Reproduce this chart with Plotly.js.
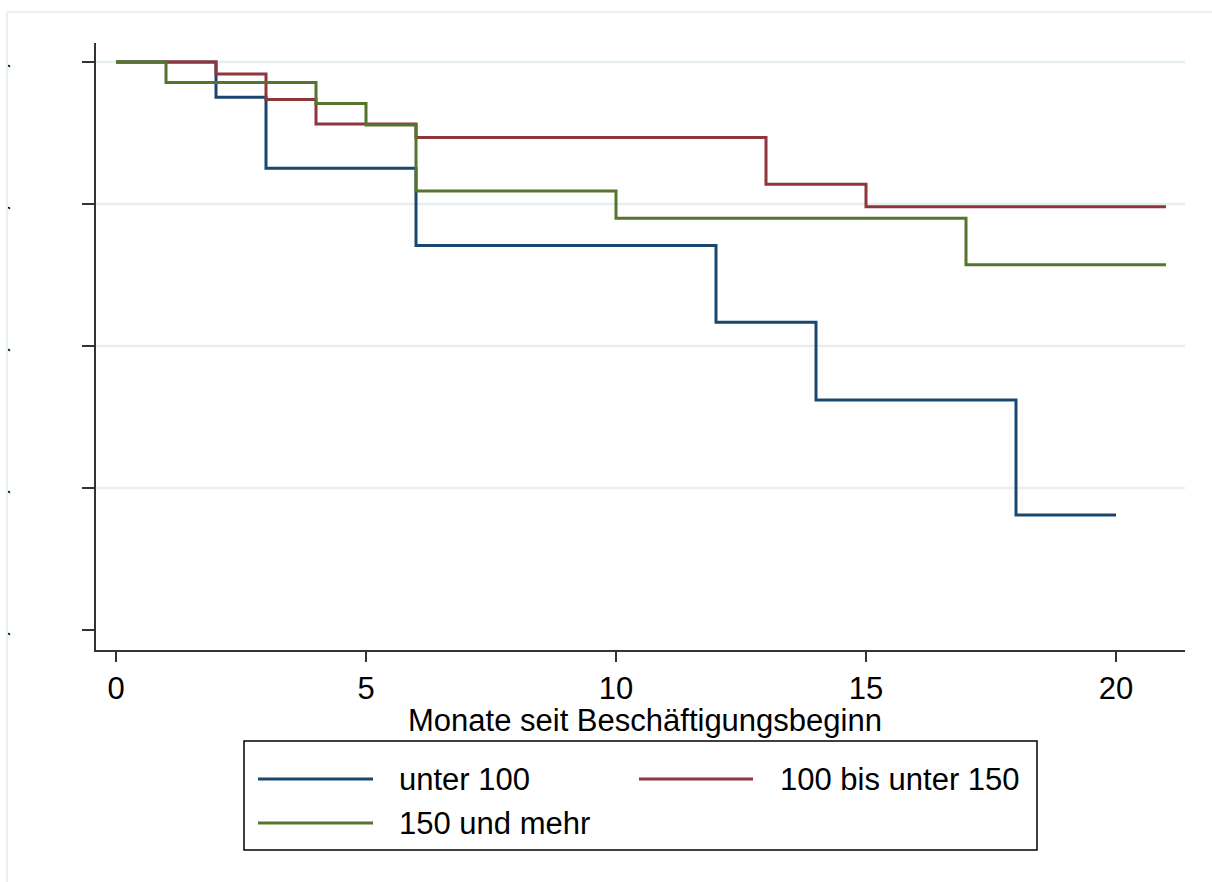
<!DOCTYPE html>
<html>
<head>
<meta charset="utf-8">
<script src="https://cdn.plot.ly/plotly-3.0.1.min.js"></script>
<style>
  html, body { margin: 0; padding: 0; background: #ffffff; overflow: hidden; }
  #chart { width: 1212px; height: 882px; }
</style>
</head>
<body>
<div id="chart"></div>
<script>
// ---- Data ----
const seriesNames = ["unter 100", "100 bis unter 150", "150 und mehr"];
const seriesColors = ["#1a476f", "#90353b", "#55752f"];

const monthsUnter100 = [0, 2, 3, 6, 12, 14, 18, 20];
const survUnter100   = [1.000, 0.938, 0.813, 0.677, 0.542, 0.405, 0.2025, 0.2025];

const months100bis150 = [0, 2, 3, 4, 6, 13, 15, 21];
const surv100bis150   = [1.000, 0.979, 0.934, 0.891, 0.867, 0.785, 0.745, 0.745];

const months150mehr = [0, 1, 4, 5, 6, 10, 17, 21];
const surv150mehr   = [1.000, 0.964, 0.927, 0.889, 0.773, 0.725, 0.643, 0.643];

const xTickVals = [0, 5, 10, 15, 20];
const yTickVals = [0, 0.25, 0.5, 0.75, 1.0];
const yTickText = ["0,00", "0,25", "0,50", "0,75", "1,00"];
const gridVals  = [0.25, 0.5, 0.75, 1.0];

const xTitle = "Monate seit Beschäftigungsbeginn";

// ---- Layout geometry ----
const W = 1212, H = 882;
const M = { l: 96, r: 27, t: 43, b: 232 };
const plotW = W - M.l - M.r, plotH = H - M.t - M.b;
const px = x => (x - M.l) / plotW;          // page px -> paper x
const py = y => (H - M.b - y) / plotH;      // page px -> paper y

const FONT = "Liberation Sans, Arial, Helvetica, sans-serif";
const FS = 31;

const allX = [monthsUnter100, months100bis150, months150mehr];
const allY = [survUnter100, surv100bis150, surv150mehr];

const traces = allX.map((xv, i) => ({
  type: "scatter",
  mode: "lines",
  x: xv,
  y: allY[i],
  name: seriesNames[i],
  line: { shape: "hv", color: seriesColors[i], width: 3 },
  showlegend: false,
  hoverinfo: "skip"
}));

const shapes = [];
// horizontal gridlines (none at 0)
gridVals.forEach(v => shapes.push({
  type: "line", xref: "paper", yref: "y", x0: 0, x1: 1, y0: v, y1: v,
  line: { color: "#e6eff1", width: 2.5 }, layer: "below"
}));
// region left of the graph-region frame (the reference crops the y labels here)
shapes.push({ type: "rect", xref: "paper", yref: "paper",
  x0: px(-10), x1: px(7), y0: py(-10), y1: py(900),
  line: { width: 0 }, fillcolor: "#ffffff", layer: "above" });
// outer graph-region frame (top and left visible)
shapes.push({ type: "line", xref: "paper", yref: "paper",
  x0: px(7), x1: px(1230), y0: py(12), y1: py(12),
  line: { color: "#e9f0f1", width: 2 } });
shapes.push({ type: "line", xref: "paper", yref: "paper",
  x0: px(7), x1: px(7), y0: py(12), y1: py(900),
  line: { color: "#e9f0f1", width: 2 } });

// legend box
shapes.push({ type: "rect", xref: "paper", yref: "paper",
  x0: px(244), x1: px(1037), y0: py(741), y1: py(850),
  line: { color: "#000000", width: 1.5 }, fillcolor: "rgba(0,0,0,0)" });

const legendPos = [
  { lx0: 258, lx1: 373, ty: 779, tx: 397 },
  { lx0: 639, lx1: 753, ty: 779, tx: 778 },
  { lx0: 258, lx1: 373, ty: 823, tx: 397 }
];
const annotations = [];
seriesNames.forEach((nm, i) => {
  const p = legendPos[i];
  shapes.push({ type: "line", xref: "paper", yref: "paper",
    x0: px(p.lx0), x1: px(p.lx1), y0: py(p.ty), y1: py(p.ty),
    line: { color: seriesColors[i], width: 3 } });
  annotations.push({ xref: "paper", yref: "paper", x: px(p.tx), y: py(p.ty),
    xanchor: "left", yanchor: "middle", text: nm, showarrow: false,
    font: { family: FONT, size: FS, color: "#000000" } });
});
// x-axis title
annotations.push({ xref: "paper", yref: "paper", x: px(645), y: py(720),
  xanchor: "center", yanchor: "middle", text: xTitle, showarrow: false,
  borderpad: 0,
  font: { family: FONT, size: FS, color: "#000000" } });

const layout = {
  width: W, height: H,
  margin: M,
  paper_bgcolor: "#ffffff",
  plot_bgcolor: "#ffffff",
  font: { family: FONT, size: FS, color: "#000000" },
  showlegend: false,
  xaxis: {
    range: [-0.4, 21.38],
    tickvals: xTickVals,
    ticktext: xTickVals.map(String),
    ticks: "outside", ticklen: 10, tickwidth: 2, tickcolor: "#333333",
    showline: true, linecolor: "#333333", linewidth: 2,
    showgrid: false, zeroline: false,
    tickfont: { family: FONT, size: FS, color: "#000000" },
    automargin: false, fixedrange: true
  },
  yaxis: {
    range: [-0.0352, 1.0335],
    tickvals: yTickVals,
    ticktext: yTickText,
    tickangle: -90,
    ticks: "outside", ticklen: 12, tickwidth: 2, tickcolor: "#333333",
    showline: true, linecolor: "#333333", linewidth: 2,
    showgrid: false, zeroline: false,
    tickfont: { family: FONT, size: FS, color: "#000000" },
    ticklabelstandoff: 64,
    automargin: false, fixedrange: true
  },
  shapes: shapes,
  annotations: annotations
};

Plotly.newPlot("chart", traces, layout, { displayModeBar: false, staticPlot: true });
</script>
</body>
</html>
